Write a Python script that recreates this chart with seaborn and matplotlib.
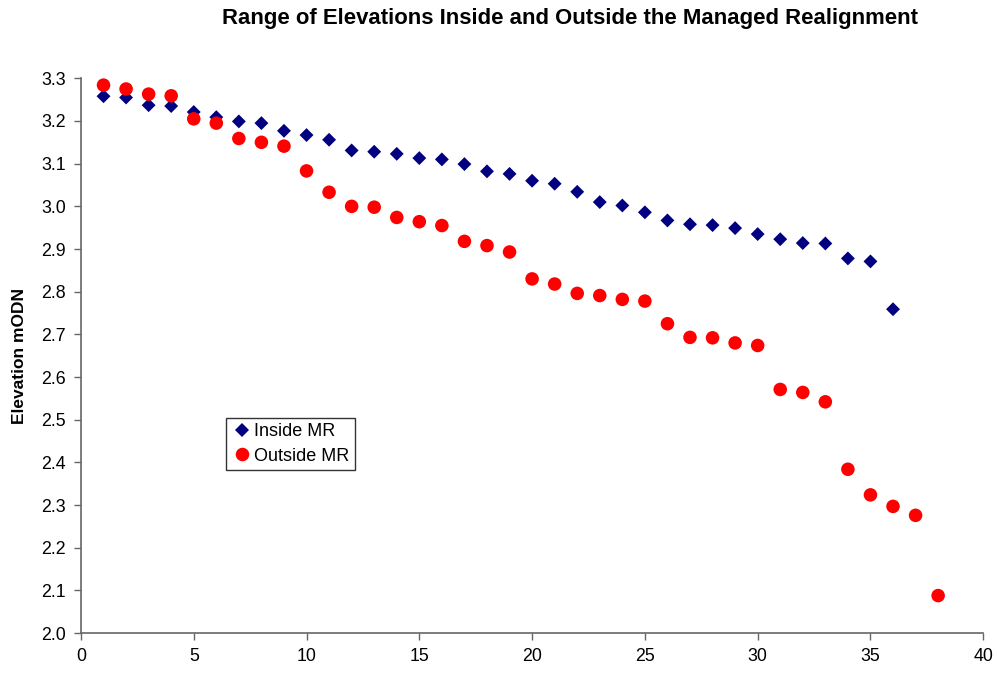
import pandas as pd
import matplotlib.pyplot as plt
import seaborn as sns

# sample number along each transect
inside_x = [1, 2, 3, 4, 5, 6, 7, 8, 9, 10, 11, 12, 13, 14, 15, 16, 17, 18,
            19, 20, 21, 22, 23, 24, 25, 26, 27, 28, 29, 30, 31, 32, 33, 34, 35, 36]
inside_elev = [3.258, 3.255, 3.237, 3.235, 3.221, 3.209, 3.199, 3.195, 3.177,
               3.167, 3.156, 3.131, 3.128, 3.123, 3.113, 3.110, 3.099, 3.082,
               3.076, 3.060, 3.053, 3.034, 3.010, 3.002, 2.986, 2.967, 2.958,
               2.956, 2.949, 2.935, 2.923, 2.914, 2.913, 2.878, 2.871, 2.759]

outside_x = [1, 2, 3, 4, 5, 6, 7, 8, 9, 10, 11, 12, 13, 14, 15, 16, 17, 18, 19,
             20, 21, 22, 23, 24, 25, 26, 27, 28, 29, 30, 31, 32, 33, 34, 35, 36, 37, 38]
outside_elev = [3.284, 3.275, 3.263, 3.259, 3.205, 3.195, 3.159, 3.150, 3.141,
                3.083, 3.033, 3.000, 2.998, 2.974, 2.964, 2.955, 2.918, 2.908,
                2.893, 2.830, 2.818, 2.796, 2.791, 2.782, 2.778, 2.725, 2.693,
                2.692, 2.680, 2.674, 2.571, 2.564, 2.542, 2.384, 2.324, 2.297,
                2.276, 2.088]

series_names = ['Inside MR', 'Outside MR']

df = pd.concat([
    pd.DataFrame({'x': inside_x, 'elev': inside_elev, 'site': series_names[0]}),
    pd.DataFrame({'x': outside_x, 'elev': outside_elev, 'site': series_names[1]}),
])

sns.set_style('white')
plt.rcParams['font.family'] = ['Liberation Sans', 'DejaVu Sans']
plt.rcParams['text.color'] = 'black'
plt.rcParams['axes.labelcolor'] = 'black'

fig = plt.figure(figsize=(9.97, 6.75), dpi=100)
ax = fig.add_axes([0.0812, 0.062, 0.905, 0.822])

sns.scatterplot(data=df, x='x', y='elev', hue='site', style='site',
                palette={'Inside MR': '#000080', 'Outside MR': '#ff0000'},
                markers={'Inside MR': 'D', 'Outside MR': 'o'},
                size='site', sizes={'Inside MR': 50, 'Outside MR': 95},
                linewidth=0, ax=ax)

ax.set_xlim(0, 40)
ax.set_ylim(2.0, 3.3)
ax.set_xticks([0, 5, 10, 15, 20, 25, 30, 35, 40])
ax.set_yticks([2.0, 2.1, 2.2, 2.3, 2.4, 2.5, 2.6, 2.7, 2.8, 2.9, 3.0, 3.1, 3.2, 3.3])
ax.set_yticklabels([f'{v:.1f}' for v in ax.get_yticks()])
ax.set_xlabel('')
ax.set_ylabel('Elevation mODN', fontsize=12.5, fontweight='bold', labelpad=10)

for side in ['top', 'right']:
    ax.spines[side].set_visible(False)
for side in ['left', 'bottom']:
    ax.spines[side].set_color('#666666')
    ax.spines[side].set_linewidth(1.2)
ax.tick_params(axis='both', which='major', direction='out', length=5,
               width=1, color='#666666', labelsize=12.8, labelcolor='black',
               left=True, bottom=True, pad=6)

handles, labels = ax.get_legend_handles_labels()
leg = ax.legend(handles, labels, loc='upper left', bbox_to_anchor=(0.161, 0.388),
                frameon=True, fancybox=False, fontsize=13, handletextpad=0.05,
                borderpad=0.3, labelspacing=0.4, handlelength=1.2,
                borderaxespad=0)
leg.get_frame().set_edgecolor('black')
leg.get_frame().set_linewidth(1.0)

fig.text(0.572, 0.972, 'Range of Elevations Inside and Outside the Managed Realignment',
         ha='center', va='center', fontsize=15.9, fontweight='bold')

fig.savefig('out.png', dpi=100)
